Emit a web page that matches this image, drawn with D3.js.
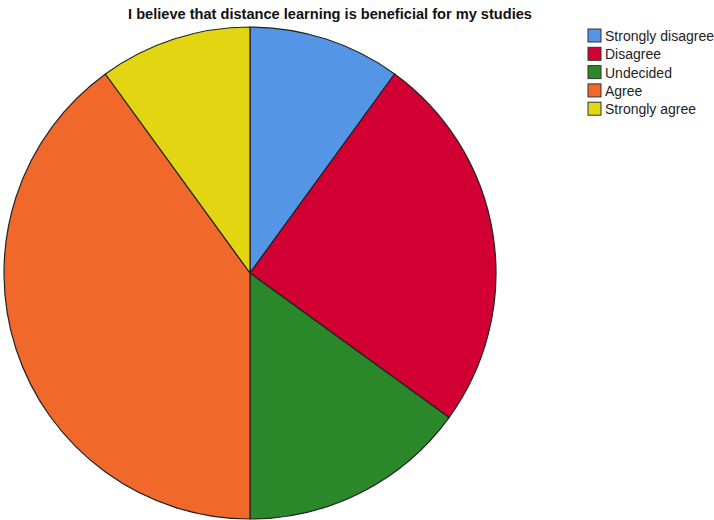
<!DOCTYPE html>
<html>
<head>
<meta charset="utf-8">
<script src="https://cdn.jsdelivr.net/npm/d3@7"></script>
<style>
  body { margin: 0; background: #fff; }
  svg { display: block; font-family: "Liberation Sans", Arial, sans-serif; }
</style>
</head>
<body>
<div id="chart"></div>
<script>
// pie chart: distance learning survey

const categories = ["Strongly disagree", "Disagree", "Undecided", "Agree", "Strongly agree"];
const percents = [10, 25, 15, 40, 10];
const sliceColors = ["#5595e5", "#d20032", "#2a882a", "#f0692a", "#e2d612"];
const chartTitle = "I believe that distance learning is beneficial for my studies";

const width = 714;
const height = 520;
const cx = 250;
const cy = 273;
const radius = 246;

var svg = d3.select("#chart")
    .append("svg")
    .attr("width", width)
    .attr("height", height);

svg.append("text")
    .attr("x", 330)
    .attr("y", 19)
    .attr("text-anchor", "middle")
    .attr("font-size", "14.6px")
    .attr("font-weight", "bold")
    .attr("fill", "#111")
    .text(chartTitle);

var color = d3.scaleOrdinal()
    .domain(categories)
    .range(sliceColors);

var pie = d3.pie().sort(null).value(d => d.value);
var arc = d3.arc().innerRadius(0).outerRadius(radius);

var data = categories.map((c, i) => ({ name: c, value: percents[i] }));

svg.append("g")
    .attr("transform", "translate(" + cx + "," + cy + ")")
    .selectAll("path")
    .data(pie(data))
    .join("path")
    .attr("d", arc)
    .attr("fill", d => color(d.data.name))
    .attr("stroke", "#222")
    .attr("stroke-width", 1.2)
    .attr("stroke-linejoin", "round");

// legend
var legend = svg.append("g")
    .attr("transform", "translate(588,29)")
    .selectAll("g")
    .data(categories)
    .join("g")
    .attr("transform", (d, i) => "translate(0," + (i * 18.3) + ")");

legend.append("rect")
    .attr("width", 13)
    .attr("height", 13)
    .attr("fill", d => color(d))
    .attr("stroke", "#333")
    .attr("stroke-width", 1);

legend.append("text")
    .attr("x", 17)
    .attr("y", 7)
    .attr("dy", ".35em")
    .attr("font-size", "14px")
    .attr("fill", "#222")
    .text(d => d);
</script>
</body>
</html>
